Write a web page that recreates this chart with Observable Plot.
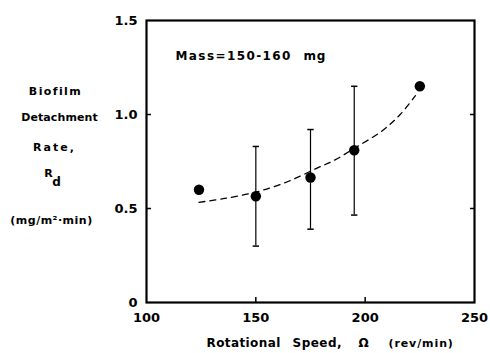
<!DOCTYPE html>
<html><head><meta charset="utf-8">
<script src="https://cdn.jsdelivr.net/npm/d3@7"></script>
<script src="https://cdn.jsdelivr.net/npm/@observablehq/plot@0.6"></script>
<style>
body{margin:0;background:#fff;}
svg{font-family:"DejaVu Sans",sans-serif;}
</style></head>
<body><div id="chart"></div>
<script>
// data
const speeds = [124, 150, 175, 195, 225];
const rates = [0.60, 0.565, 0.665, 0.81, 1.15];
const errLow = [null, 0.30, 0.39, 0.465, null];
const errHigh = [null, 0.83, 0.92, 1.15, null];
const fitX = [124, 135, 150, 165, 178, 186, 195, 208, 216, 223];
const fitY = [0.533, 0.552, 0.587, 0.645, 0.715, 0.757, 0.82, 0.915, 1.0, 1.10];
const xTicks = [100, 150, 200, 250];
const xTickLabels = ["100", "150", "200", "250"];
const yTicks = [0, 0.5, 1.0, 1.5];
const yTickLabels = ["0", "0.5", "1.0", "1.5"];
const yTitleLines = ["Biofilm", "Detachment", "Rate,"];
const annotation = ["Mass=150-160", "mg"];
const xTitleParts = ["Rotational", "Speed,", "\u03A9", "(rev/min)"];

const points = speeds.map((s, i) => ({x: s, y: rates[i]}));
const errs = speeds.map((s, i) => ({x: s, lo: errLow[i], hi: errHigh[i]})).filter(d => d.lo != null);
const caps = errs.flatMap(d => [{x: d.x, y: d.lo}, {x: d.x, y: d.hi}]);
const fit = fitX.map((x, i) => ({x, y: fitY[i]}));

const capSymbol = {draw(ctx, size) { const w = Math.sqrt(size) * 0.6; ctx.moveTo(-w, 0); ctx.lineTo(w, 0); }};

const font = {fontFamily: "DejaVu Sans", fontWeight: "bold", fill: "black"};
const label = (txt, anchor, dx, dy, size, spacing = 0, extra = {}) =>
  Plot.text([txt], {frameAnchor: anchor, dx, dy, text: (d) => d, textAnchor: "middle", fontSize: size, ...font, ...extra,
    render: (i, s, v, d, c, next) => { const g = next(i, s, v, d, c); g.setAttribute("letter-spacing", spacing); return g; }});

const plot = Plot.plot({
  width: 490, height: 353,
  marginLeft: 146, marginRight: 16, marginTop: 20, marginBottom: 51,
  style: {fontFamily: "DejaVu Sans", fontSize: "12px", color: "black", background: "white"},
  x: {domain: [100, 250]},
  y: {domain: [0, 1.5]},
  marks: [
    Plot.axisX({ticks: xTicks, tickSize: 0, tickPadding: 10, tickFormat: (d) => xTickLabels[xTicks.indexOf(d)], fontWeight: "bold", fontSize: 13, label: null}),
    Plot.axisX({ticks: [150, 200], tickSize: -5, text: null, strokeWidth: 1.5, label: null}),
    Plot.axisY({ticks: yTicks, tickSize: 0, tickPadding: 9, tickFormat: (d) => yTickLabels[yTicks.indexOf(d)], fontWeight: "bold", fontSize: 13, label: null}),
    Plot.axisY({ticks: [0.5, 1.0], tickSize: -5, text: null, strokeWidth: 1.5, label: null}),
    Plot.axisY({ticks: [0.5, 1.0], anchor: "right", tickSize: -5, text: null, strokeWidth: 1.5, label: null}),
    Plot.frame({stroke: "black", strokeWidth: 2.2}),
    Plot.line(fit, {x: "x", y: "y", stroke: "black", strokeWidth: 1.3, strokeDasharray: "6,5", curve: "catmull-rom"}),
    Plot.ruleX(errs, {x: "x", y1: "lo", y2: "hi", stroke: "black", strokeWidth: 1.2}),
    Plot.dot(caps, {x: "x", y: "y", symbol: capSymbol, r: 3, stroke: "black", strokeWidth: 1.5, fill: "none"}),
    Plot.dot(points, {x: "x", y: "y", r: 5.2, fill: "black"}),
    // annotation
    label(annotation[0], "top-left", 29, 31, 12, 1.4, {textAnchor: "start"}),
    label(annotation[1], "top-left", 157, 31, 12, 0.8, {textAnchor: "start"}),
    // y title
    label(yTitleLines[0], "top-left", -91, 67, 11, 1.4),
    label(yTitleLines[1], "top-left", -87, 93, 11, 0.1),
    label(yTitleLines[2], "top-left", -92, 123, 11, 2.0),
    label("R", "top-left", -98, 149, 11),
    label("d", "top-left", -90, 157, 12),
    label("(mg/m\u00B2\u00B7min)", "top-left", -95, 196, 11, 0.5),
    // x title
    label(xTitleParts[0], "bottom-left", 60, 44, 12, 0.4, {textAnchor: "start"}),
    label(xTitleParts[1], "bottom-left", 146, 44, 12, 0.5, {textAnchor: "start"}),
    label(xTitleParts[2], "bottom-left", 212, 44, 12, 0, {textAnchor: "start"}),
    label(xTitleParts[3], "bottom-left", 242, 44, 11, 0.9, {textAnchor: "start"})
  ]
});
document.getElementById("chart").appendChild(plot);
</script>
</body></html>
